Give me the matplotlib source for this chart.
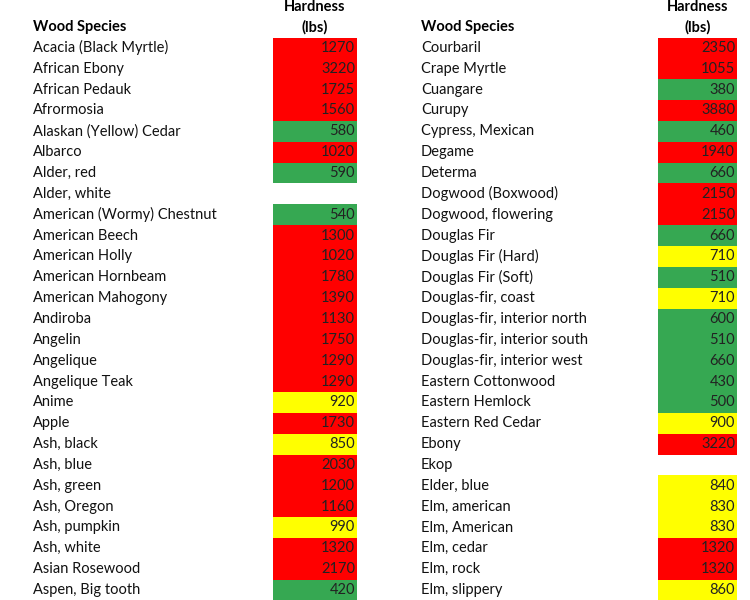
import matplotlib
matplotlib.use("Agg")
import matplotlib.pyplot as plt
from matplotlib.patches import Rectangle

left_species = ["Acacia (Black Myrtle)", "African Ebony", "African Pedauk", "Afrormosia",
    "Alaskan (Yellow) Cedar", "Albarco", "Alder, red", "Alder, white", "American (Wormy) Chestnut",
    "American Beech", "American Holly", "American Hornbeam", "American Mahogony", "Andiroba",
    "Angelin", "Angelique", "Angelique Teak", "Anime", "Apple", "Ash, black", "Ash, blue",
    "Ash, green", "Ash, Oregon", "Ash, pumpkin", "Ash, white", "Asian Rosewood", "Aspen, Big tooth"]
left_hardness = [1270, 3220, 1725, 1560, 580, 1020, 590, None, 540, 1300, 1020, 1780, 1390, 1130,
    1750, 1290, 1290, 920, 1730, 850, 2030, 1200, 1160, 990, 1320, 2170, 420]
right_species = ["Courbaril", "Crape Myrtle", "Cuangare", "Curupy", "Cypress, Mexican", "Degame",
    "Determa", "Dogwood (Boxwood)", "Dogwood, flowering", "Douglas Fir", "Douglas Fir (Hard)",
    "Douglas Fir (Soft)", "Douglas-fir, coast", "Douglas-fir, interior north",
    "Douglas-fir, interior south", "Douglas-fir, interior west", "Eastern Cottonwood",
    "Eastern Hemlock", "Eastern Red Cedar", "Ebony", "Ekop", "Elder, blue", "Elm, american",
    "Elm, American", "Elm, cedar", "Elm, rock", "Elm, slippery"]
right_hardness = [2350, 1055, 380, 3880, 460, 1940, 660, 2150, 2150, 660, 710, 510, 710, 600, 510,
    660, 430, 500, 900, 3220, None, 840, 830, 830, 1320, 1320, 860]

def color(v):
    if v <= 660: return "#36A852"
    if v < 1000: return "#FFFF00"
    return "#FF0000"

fig = plt.figure(figsize=(7.5, 6), dpi=100)
ax = fig.add_axes([0, 0, 1, 1])
ax.set_xlim(0, 750); ax.set_ylim(600, 0); ax.axis("off")
font = "Lato"
fs = 10.5
top, rh = 37.5, 20.85
for names, vals, xn, x0, x1 in [(left_species, left_hardness, 33, 273, 357),
                                (right_species, right_hardness, 421, 658, 737)]:
    ax.text(xn, 27, "Wood Species", fontsize=fs, fontweight="bold", family=font, va="center")
    ax.text((x0 + x1) / 2, 7, "Hardness", fontsize=fs, fontweight="bold", family=font, va="center", ha="center")
    ax.text((x0 + x1) / 2, 27, "(lbs)", fontsize=fs, fontweight="bold", family=font, va="center", ha="center")
    for i, (n, v) in enumerate(zip(names, vals)):
        y = top + i * rh
        ax.text(xn, y + rh / 2, n, fontsize=fs, family=font, va="center", color="#111111")
        if v is not None:
            ax.add_patch(Rectangle((x0, y), x1 - x0, rh, facecolor=color(v), edgecolor="none"))
            ax.text(x1 - 2, y + rh / 2, str(v), fontsize=fs, family=font, va="center", ha="right", color="#222222")
fig.savefig("out.png", dpi=100)
